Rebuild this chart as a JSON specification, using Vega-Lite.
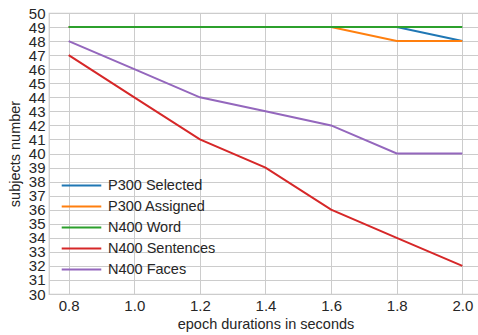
{
  "$schema": "https://vega.github.io/schema/vega-lite/v6.json",
  "width": 433,
  "height": 281,
  "autosize": {"type": "none"},
  "padding": {"left": 49, "top": 13, "right": 0, "bottom": 41},
  "config": {
    "font": "Liberation Sans",
    "view": {"stroke": "#cccccc", "strokeWidth": 1.25},
    "axis": {
      "domain": false,
      "ticks": false,
      "grid": true,
      "gridColor": "#cccccc",
      "gridWidth": 1,
      "labelFont": "Liberation Sans",
      "labelFontSize": 15,
      "labelColor": "#262626",
      "titleFont": "Liberation Sans",
      "titleFontSize": 14.5,
      "titleFontWeight": "normal",
      "titleColor": "#262626",
      "labelPadding": 4,
      "labelOverlap": false
    }
  },
  "data": {
    "values": [
      {"x": 0.8, "y": 49, "s": "P300 Selected"},
      {"x": 1.0, "y": 49, "s": "P300 Selected"},
      {"x": 1.2, "y": 49, "s": "P300 Selected"},
      {"x": 1.4, "y": 49, "s": "P300 Selected"},
      {"x": 1.6, "y": 49, "s": "P300 Selected"},
      {"x": 1.8, "y": 49, "s": "P300 Selected"},
      {"x": 2.0, "y": 48, "s": "P300 Selected"},
      {"x": 0.8, "y": 49, "s": "P300 Assigned"},
      {"x": 1.0, "y": 49, "s": "P300 Assigned"},
      {"x": 1.2, "y": 49, "s": "P300 Assigned"},
      {"x": 1.4, "y": 49, "s": "P300 Assigned"},
      {"x": 1.6, "y": 49, "s": "P300 Assigned"},
      {"x": 1.8, "y": 48, "s": "P300 Assigned"},
      {"x": 2.0, "y": 48, "s": "P300 Assigned"},
      {"x": 0.8, "y": 49, "s": "N400 Word"},
      {"x": 1.0, "y": 49, "s": "N400 Word"},
      {"x": 1.2, "y": 49, "s": "N400 Word"},
      {"x": 1.4, "y": 49, "s": "N400 Word"},
      {"x": 1.6, "y": 49, "s": "N400 Word"},
      {"x": 1.8, "y": 49, "s": "N400 Word"},
      {"x": 2.0, "y": 49, "s": "N400 Word"},
      {"x": 0.8, "y": 47, "s": "N400 Sentences"},
      {"x": 1.0, "y": 44, "s": "N400 Sentences"},
      {"x": 1.2, "y": 41, "s": "N400 Sentences"},
      {"x": 1.4, "y": 39, "s": "N400 Sentences"},
      {"x": 1.6, "y": 36, "s": "N400 Sentences"},
      {"x": 1.8, "y": 34, "s": "N400 Sentences"},
      {"x": 2.0, "y": 32, "s": "N400 Sentences"},
      {"x": 0.8, "y": 48, "s": "N400 Faces"},
      {"x": 1.0, "y": 46, "s": "N400 Faces"},
      {"x": 1.2, "y": 44, "s": "N400 Faces"},
      {"x": 1.4, "y": 43, "s": "N400 Faces"},
      {"x": 1.6, "y": 42, "s": "N400 Faces"},
      {"x": 1.8, "y": 40, "s": "N400 Faces"},
      {"x": 2.0, "y": 40, "s": "N400 Faces"}
    ]
  },
  "mark": {"type": "line", "strokeWidth": 2, "clip": true},
  "encoding": {
    "x": {
      "field": "x", "type": "quantitative",
      "scale": {"domain": [0.74, 2.06], "nice": false, "zero": false},
      "axis": {"values": [0.8, 1.0, 1.2, 1.4, 1.6, 1.8, 2.0], "format": ".1f", "title": "epoch durations in seconds", "titlePadding": 4}
    },
    "y": {
      "field": "y", "type": "quantitative",
      "scale": {"domain": [30, 50], "nice": false, "zero": false},
      "axis": {"values": [30,31,32,33,34,35,36,37,38,39,40,41,42,43,44,45,46,47,48,49,50], "title": "subjects number", "titlePadding": 6}
    },
    "color": {
      "field": "s", "type": "nominal",
      "sort": ["P300 Selected", "P300 Assigned", "N400 Word", "N400 Sentences", "N400 Faces"],
      "scale": {
        "domain": ["P300 Selected", "P300 Assigned", "N400 Word", "N400 Sentences", "N400 Faces"],
        "range": ["#1f77b4", "#ff7f0e", "#2ca02c", "#d62728", "#9467bd"]
      },
      "legend": {
        "title": null,
        "orient": "none",
        "legendX": 23,
        "legendY": 163,
        "symbolType": "M-2.4,0H2.4",
        "symbolSize": 272,
        "symbolStrokeWidth": 2,
        "labelFontSize": 14.5,
        "labelColor": "#262626",
        "labelOffset": 17,
        "rowPadding": 5,
        "labelFont": "Liberation Sans"
      }
    },
    "order": {"field": "x", "type": "quantitative"}
  }
}
